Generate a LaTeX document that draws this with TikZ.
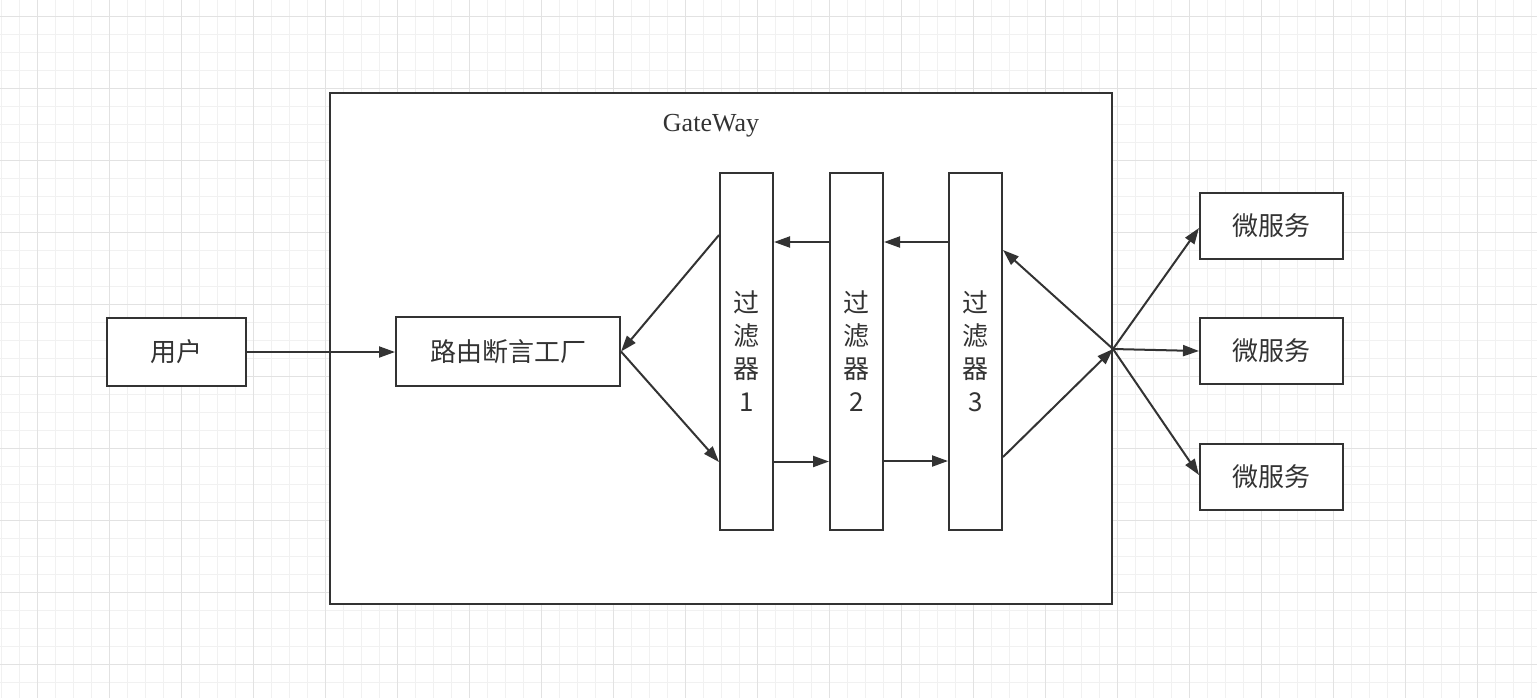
\documentclass[tikz,border=0pt]{standalone}
\usepackage{fontspec}
\setmainfont{Liberation Serif}
\newfontfamily\cjk{Noto Sans CJK SC}
\usetikzlibrary{arrows.meta,positioning,calc}
\definecolor{lineGray}{RGB}{51,51,51}
\definecolor{gridMinor}{RGB}{241,241,241}
\definecolor{gridMajor}{RGB}{226,226,226}

\begin{document}
\begin{tikzpicture}[x=0.5pt, y=-0.5pt,
    box/.style={draw=lineGray, line width=1pt, fill=white, text=lineGray,
      font=\cjk\fontsize{13}{16.5}\selectfont, inner sep=0pt},
    filterbox/.style={box, minimum width=26.5pt, minimum height=178.5pt, align=center},
    svcbox/.style={box, minimum width=71.5pt, minimum height=33pt},
    link/.style={draw=lineGray, line width=1pt, -{Triangle[length=8pt,width=5.5pt]}}]
  \useasboundingbox (0,0) rectangle (1537,698);
  % background grid
  \fill[white] (0,0) rectangle (1537,698);
  \foreach \i in {0,...,85}
    \draw[gridMinor, line width=0.5pt] ({1+18*\i},0) -- ++(0,698);
  \foreach \j in {1,...,38}
    \draw[gridMinor, line width=0.5pt] (0,{-2+18*\j}) -- ++(1537,0);
  \foreach \i in {2,6,...,82}
    \draw[gridMajor, line width=0.5pt] ({1+18*\i},0) -- ++(0,698);
  \foreach \j in {1,5,...,37}
    \draw[gridMajor, line width=0.5pt] (0,{-2+18*\j}) -- ++(1537,0);

  % gateway frame
  \node[draw=lineGray, line width=1pt, fill=white, minimum width=391pt,
    minimum height=255.5pt, inner sep=0pt] (gw) at (721,348.5) {};
  \node[text=lineGray, font=\fontsize{13}{15}\selectfont] (gwlabel) at (711,126) {GateWay};

  % user and route factory
  \node[box, minimum width=69.5pt, minimum height=34pt] (user) at (176.5,352) {用户};
  \node[box, minimum width=112pt, minimum height=34.5pt] (factory) at (508,351.5) {路由断言工厂};

  % filters
  \node[filterbox] (filterA) at (746.5,351.5) {过\\滤\\器\\1};
  \node[filterbox] (filterB) at (856.5,351.5) {过\\滤\\器\\2};
  \node[filterbox] (filterC) at (975.5,351.5) {过\\滤\\器\\3};

  % micro services
  \node[svcbox] (svcA) at (1271.5,226) {微服务};
  \node[svcbox] (svcB) at (1271.5,351) {微服务};
  \node[svcbox] (svcC) at (1271.5,476.5) {微服务};

  % hub on the gateway edge
  \coordinate (hub) at (gw.east |- 0,349);

  % request path
  \draw[link] (user.east) -- (factory.west |- user.east);
  \draw[link] (factory.east) -- (filterA.west |- 0,462);
  \draw[link] (filterA.east |- 0,461.5) -- (filterB.west |- 0,461.5);
  \draw[link] (filterB.east |- 0,461) -- (filterC.west |- 0,461);
  \draw[link] (filterC.east |- 0,457) -- (hub);
  % to the services
  \draw[link] (hub) -- (svcA.west |- 0,228);
  \draw[link] (hub) -- (svcB.west);
  \draw[link] (hub) -- (svcC.west |- 0,475);
  % response path
  \draw[link] (hub) -- (filterC.east |- 0,250);
  \draw[link] (filterC.west |- 0,242) -- (filterB.east |- 0,242);
  \draw[link] (filterB.west |- 0,242) -- (filterA.east |- 0,242);
  \draw[link] (filterA.west |- 0,235) -- (factory.east);
\end{tikzpicture}
\end{document}
